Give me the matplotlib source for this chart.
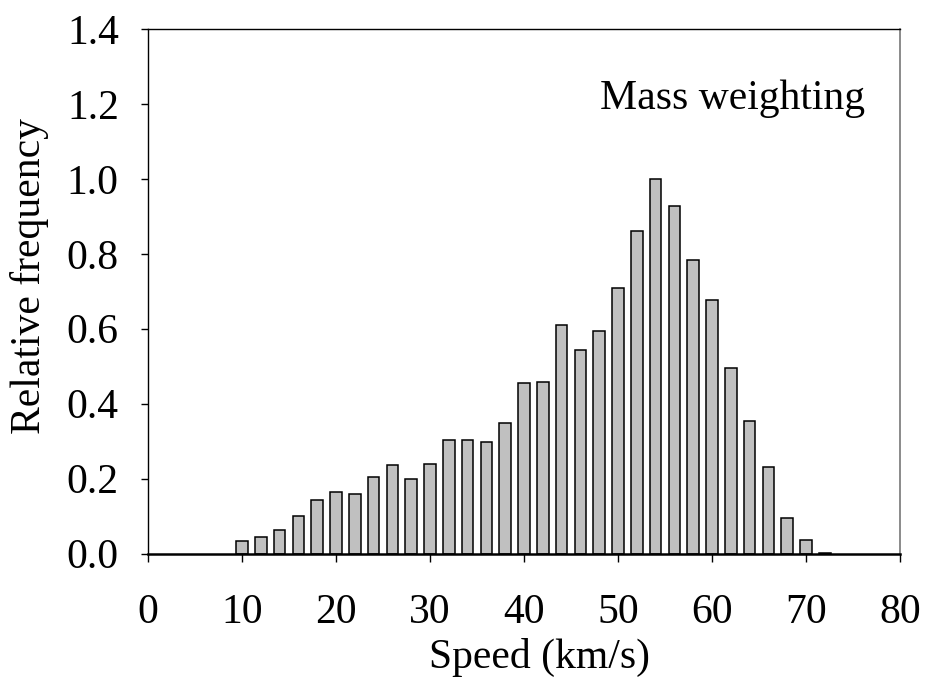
import matplotlib
matplotlib.use("Agg")
import matplotlib.pyplot as plt

# Speed bins (km/s) and relative frequency
speed = [10, 12, 14, 16, 18, 20, 22, 24, 26, 28, 30, 32, 34, 36, 38, 40,
         42, 44, 46, 48, 50, 52, 54, 56, 58, 60, 62, 64, 66, 68, 70, 72]
freq = [0.033, 0.044, 0.064, 0.099, 0.143, 0.163, 0.160, 0.204, 0.235, 0.198,
        0.238, 0.304, 0.304, 0.298, 0.348, 0.456, 0.459, 0.610, 0.544, 0.594,
        0.710, 0.861, 1.000, 0.928, 0.783, 0.677, 0.495, 0.354, 0.230, 0.096,
        0.037, 0.002]

x_ticks = [0, 10, 20, 30, 40, 50, 60, 70, 80]
y_ticks = [0.0, 0.2, 0.4, 0.6, 0.8, 1.0, 1.2, 1.4]

plt.rcParams['font.family'] = ['Liberation Serif', 'DejaVu Serif']
FS = 30

fig = plt.figure(figsize=(9.26, 6.82), dpi=100)
ax = fig.add_axes([148 / 926, 1 - 553.5 / 682, 752 / 926, 524.5 / 682])

ax.bar(speed, freq, width=1.25, color='#c0c0c0', edgecolor='black',
       linewidth=1.1, zorder=2)

ax.set_xlim(0, 80)
ax.set_ylim(0, 1.4)
ax.set_xticks(x_ticks)
ax.set_yticks(y_ticks)
ax.set_yticklabels([f'{v:.1f}' for v in y_ticks])

ax.tick_params(axis='x', direction='out', length=6, width=1, pad=22.5,
               labelsize=FS)
ax.tick_params(axis='y', direction='out', length=5, width=1, pad=16,
               labelsize=FS)

for side in ['left', 'top']:
    ax.spines[side].set_linewidth(1.0)
    ax.spines[side].set_color('black')
ax.spines['right'].set_linewidth(1.2)
ax.spines['right'].set_color('#777777')
ax.spines['bottom'].set_linewidth(1.8)
ax.spines['bottom'].set_zorder(3)

ax.text(48.1, 1.186, 'Mass weighting', fontsize=FS, ha='left', va='baseline')

fig.text(539.5 / 926, 1 - 668 / 682, 'Speed (km/s)', fontsize=FS,
         ha='center', va='baseline')
fig.text(30 / 926, 1 - 276.5 / 682, 'Relative frequency', fontsize=FS,
         ha='center', va='center', rotation=90)

plt.savefig('out.png', dpi=100)
